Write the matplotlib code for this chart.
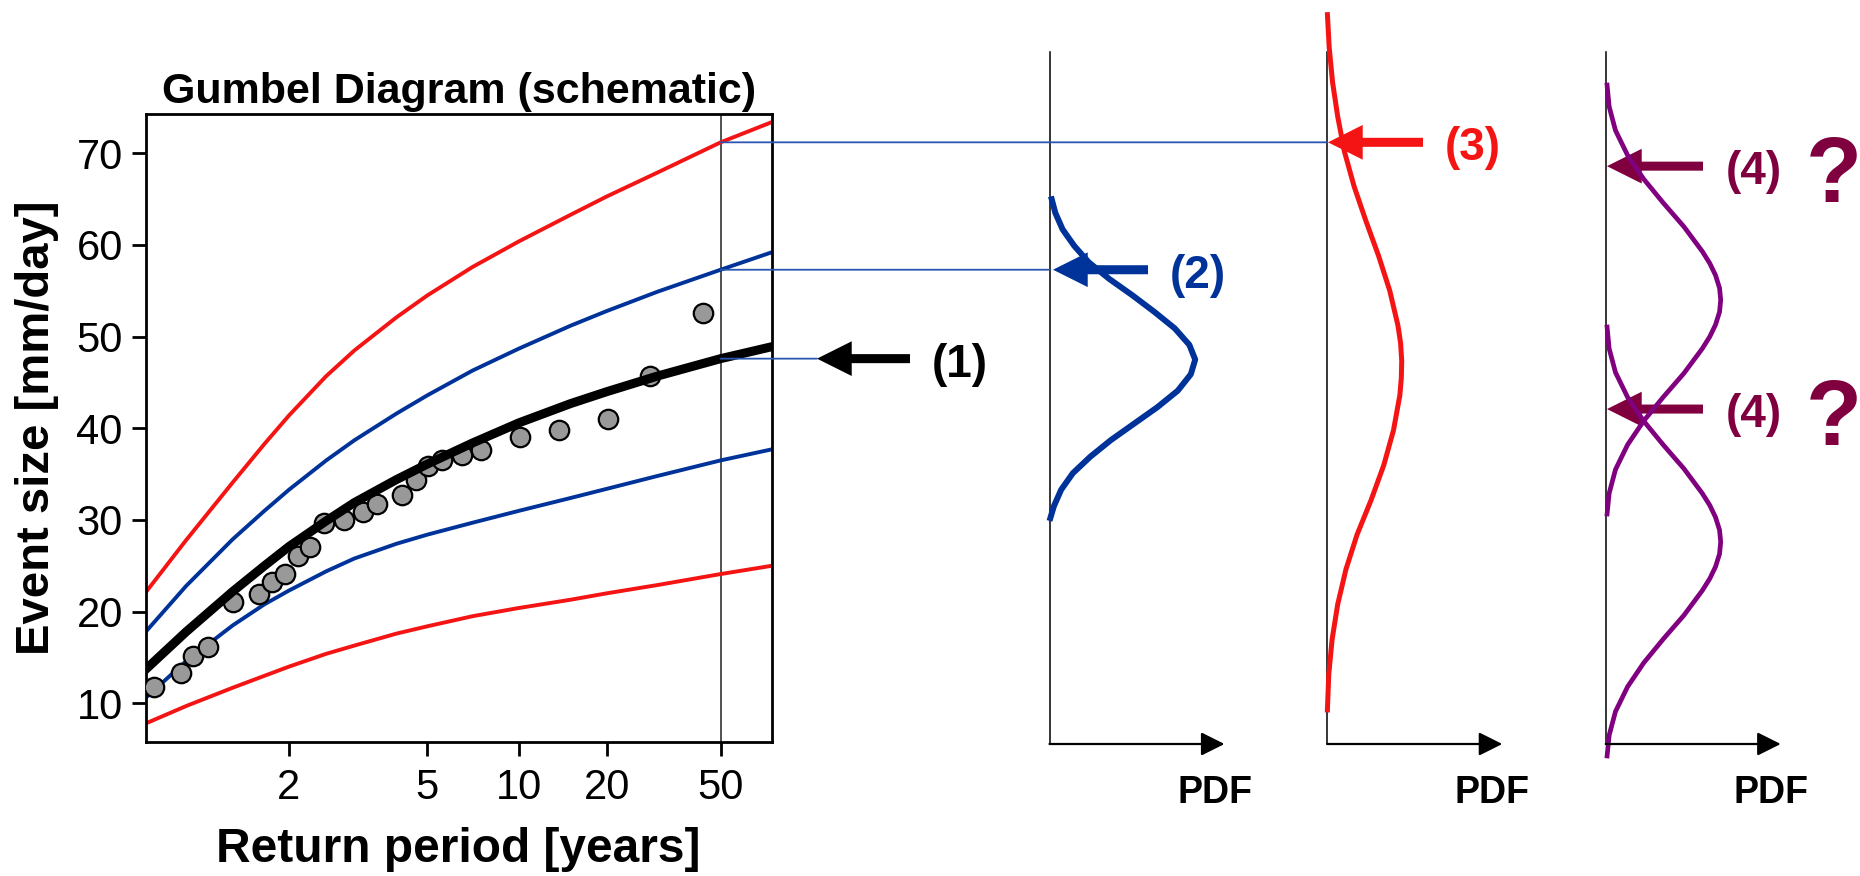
"""
Schematic Gumbel diagram with the predictive PDFs at the 50-year level.
Saves out.png (1860 x 876).
"""
import numpy as np
import matplotlib
matplotlib.use("Agg")
import matplotlib.pyplot as plt
from matplotlib.patches import ConnectionPatch, FancyArrowPatch
from matplotlib.ticker import NullLocator

plt.rcParams['font.family'] = ['Liberation Sans', 'DejaVu Sans']

W, H = 1860, 876

# ---------------------------------------------------------------------------
# data read off the schematic
# ---------------------------------------------------------------------------
CURVE_T = [1.119, 1.25, 1.5, 1.75, 2, 2.5, 3, 4, 5, 7, 10, 15, 20, 30, 50, 75.7]
FIT = [13.7, 17.8, 22.2, 25.0, 27.1, 29.9, 31.9, 34.4, 36.1, 38.4,
       40.6, 42.7, 44.0, 45.7, 47.6, 48.9]
CI_UPPER = [17.8, 22.8, 27.9, 31.0, 33.3, 36.5, 38.7, 41.6, 43.6, 46.3,
            48.7, 51.2, 52.8, 54.9, 57.3, 59.2]
CI_LOWER = [10.6, 14.6, 18.5, 20.8, 22.3, 24.4, 25.8, 27.4, 28.4, 29.7,
            31.0, 32.4, 33.4, 34.8, 36.5, 37.7]
WIDE_UPPER = [22.1, 27.8, 34.1, 38.3, 41.4, 45.7, 48.5, 52.1, 54.5, 57.6,
              60.4, 63.3, 65.3, 67.9, 71.2, 73.4]
WIDE_LOWER = [7.8, 9.7, 11.7, 13.0, 14.0, 15.4, 16.3, 17.6, 18.4, 19.5,
              20.4, 21.3, 22.0, 22.9, 24.1, 25.0]

OBS_T = [1.14, 1.23, 1.28, 1.35, 1.50, 1.70, 1.82, 1.96, 2.11, 2.26,
         2.46, 2.80, 3.18, 3.49, 4.17, 4.60, 5.03, 5.58, 6.45, 7.46,
         10.1, 13.7, 20.1, 28.3, 43.4]
OBS_X = [11.8, 13.3, 15.2, 16.1, 21.0, 21.9, 23.2, 24.1, 26.1, 27.1,
         29.7, 30.0, 30.9, 31.7, 32.7, 34.4, 35.9, 36.5, 37.1, 37.6,
         39.0, 39.8, 41.0, 45.7, 52.6]

RETURN_PERIOD = 50
XTICKS = [2, 5, 10, 20, 50]
YTICKS = [10, 20, 30, 40, 50, 60, 70]

# PDFs (event size level, relative density)
PDF2_LEVEL = [65.3, 63.5, 61.7, 59.9, 58.1, 56.3, 54.5, 52.7, 50.9, 49.1,
              47.5, 45.9, 44.1, 42.3, 40.5, 38.7, 36.9, 35.1, 33.3, 31.5, 29.9]
PDF2_DENS = [0.01, 0.04, 0.09, 0.17, 0.27, 0.41, 0.57, 0.72, 0.86, 0.96,
             1.00, 0.97, 0.88, 0.74, 0.58, 0.42, 0.28, 0.16, 0.08, 0.03, 0.0]
PDF3_LEVEL = [85.4, 81.6, 77.8, 74.0, 70.2, 66.4, 62.6, 58.8, 55.0, 51.2,
              49.3, 47.4, 45.5, 43.6, 39.8, 36.0, 32.2, 28.4, 24.6, 20.8,
              17.0, 13.2, 9.0]
PDF3_DENS = [0.0, 0.025, 0.07, 0.14, 0.23, 0.36, 0.52, 0.69, 0.84, 0.95,
             0.985, 1.00, 0.995, 0.975, 0.89, 0.76, 0.59, 0.40, 0.25, 0.14,
             0.065, 0.02, 0.0]
PDF4A_LEVEL = [77.7, 75.1, 72.5, 69.8, 67.2, 64.6, 62.0, 59.3, 58.0, 56.7,
               55.3, 54.0, 52.7, 51.3, 50.0, 48.7, 46.0, 43.4, 40.8, 38.2,
               35.5, 32.9, 30.4]
PDF4B_LEVEL = [51.3, 48.7, 46.1, 43.4, 40.8, 38.2, 35.6, 32.9, 31.6, 30.3,
               28.9, 27.6, 26.3, 24.9, 23.6, 22.3, 19.6, 17.0, 14.4, 11.8,
               9.1, 6.5, 4.0]
PDF4_DENS = [0.01, 0.03, 0.085, 0.19, 0.33, 0.50, 0.68, 0.84, 0.905, 0.955,
             0.99, 1.00, 0.99, 0.955, 0.905, 0.84, 0.68, 0.50, 0.33, 0.19,
             0.085, 0.03, 0.01]
Q_LEVELS = [68.6, 42.1]

# ---------------------------------------------------------------------------
# styles / layout (pixels)
# ---------------------------------------------------------------------------
BLUE = "#003399"
RED = "#f51414"
PURPLE = "#800080"
MAROON = "#80003f"
LINK = "#2a55b0"

AX_L, AX_R, AX_T, AX_B = 145.7, 771.7, 114.0, 741.7
XLIM = (1.119, 75.7)
YLIM = (5.81, 74.29)
PANEL_X = [1049.5, 1327.3, 1605.7]
PANEL_W = [145.7, 74.4, 115.0]


def gumbel(T):
    T = np.clip(np.asarray(T, dtype=float), 1.0001, None)
    return -np.log(-np.log(1.0 - 1.0 / T))


def gumbel_inv(y):
    return 1.0 / (1.0 - np.exp(-np.exp(-np.asarray(y, dtype=float))))


def px2val(y_px):
    return YLIM[1] - (y_px - AX_T) / (AX_B - AX_T) * (YLIM[1] - YLIM[0])


fig = plt.figure(figsize=(W / 100, H / 100), dpi=100)
ax = fig.add_axes([AX_L / W, 1 - AX_B / H, (AX_R - AX_L) / W, (AX_B - AX_T) / H])

# ---- Gumbel diagram ----
ax.set_xscale('function', functions=(gumbel, gumbel_inv))
ax.set_xlim(*XLIM)
ax.set_ylim(*YLIM)

ax.plot(CURVE_T, WIDE_UPPER, color=RED, lw=2.8, zorder=2)
ax.plot(CURVE_T, WIDE_LOWER, color=RED, lw=2.8, zorder=2)
ax.plot(CURVE_T, CI_UPPER, color=BLUE, lw=2.8, zorder=2)
ax.plot(CURVE_T, CI_LOWER, color=BLUE, lw=2.8, zorder=2)
ax.plot(OBS_T, OBS_X, 'o', ms=14, mfc='#999999', mec='black', mew=1.6, zorder=3)
ax.plot(CURVE_T, FIT, color='black', lw=6.5, zorder=4)
ax.axvline(RETURN_PERIOD, color='#222222', lw=1.1, zorder=1)

ax.set_xticks(XTICKS)
ax.set_xticklabels([str(t) for t in XTICKS])
ax.xaxis.set_minor_locator(NullLocator())
ax.set_yticks(YTICKS)
ax.tick_params(axis='both', direction='out', length=10, width=2, labelsize=30)
ax.tick_params(axis='y', pad=6.5)
ax.tick_params(axis='x', pad=9)
for sp in ax.spines.values():
    sp.set_linewidth(2)

ax.set_title('Gumbel Diagram (schematic)', fontsize=31, fontweight='bold', pad=8)
ax.set_xlabel('Return period [years]', fontsize=34.5, fontweight='bold', va='baseline')
ax.xaxis.set_label_coords(0.5, -(862 - AX_B) / (AX_B - AX_T))
ax.set_ylabel('Event size [mm/day]', fontsize=34, fontweight='bold', va='baseline')
ax.yaxis.set_label_coords((49 - AX_L) / (AX_R - AX_L), 0.5)

# ---- overlay for the PDF sketches (x in pixels, y in mm/day) ----
ov = fig.add_axes([0, 1 - AX_B / H, 1, (AX_B - AX_T) / H])
ov.set_xlim(0, W)
ov.set_ylim(*YLIM)
ov.axis('off')

top, bottom = px2val(52), px2val(744)
for x0 in PANEL_X:
    ov.plot([x0, x0], [top, bottom], color='black', lw=1.1, clip_on=False)
    ov.annotate('', xy=(x0 + 175, bottom), xytext=(x0, bottom),
                arrowprops=dict(arrowstyle='-|>', mutation_scale=36, lw=1.6,
                                color='black', shrinkA=0, shrinkB=0),
                annotation_clip=False)
    fig.text((x0 + 165) / W, 1 - 802.7 / H, 'PDF', ha='center', va='baseline',
             fontsize=27, fontweight='bold')

pdfs = [(0, PDF2_LEVEL, PDF2_DENS, BLUE, 4.3),
        (1, PDF3_LEVEL, PDF3_DENS, RED, 3.6),
        (2, PDF4A_LEVEL, PDF4_DENS, PURPLE, 3.4),
        (2, PDF4B_LEVEL, PDF4_DENS, PURPLE, 3.4)]
for i, lev, dens, c, lw in pdfs:
    xs = PANEL_X[i] + PANEL_W[i] * np.asarray(dens)
    ov.plot(xs, lev, color=c, lw=lw, clip_on=False, solid_capstyle='butt',
            solid_joinstyle='round')

# links from the 50-year estimates to the PDFs
i50 = CURVE_T.index(RETURN_PERIOD)
levels = [FIT[i50], CI_UPPER[i50], WIDE_UPPER[i50]]
link_end = [817, PANEL_X[0], PANEL_X[1]]
for lvl, xe in zip(levels, link_end):
    con = ConnectionPatch(xyA=(RETURN_PERIOD, lvl), coordsA=ax.transData,
                          xyB=(xe, lvl), coordsB=ov.transData,
                          color=LINK, lw=1.3)
    fig.add_artist(con)


def arrow(tail, tip, lvl, color):
    ov.add_patch(FancyArrowPatch(
        (tail, lvl), (tip, lvl),
        arrowstyle='simple,head_length=0.5,head_width=0.5,tail_width=0.13',
        mutation_scale=50, fc=color, ec='none', shrinkA=0, shrinkB=0,
        clip_on=False))


def label(x, lvl, s, color, dy=-6):
    ov.annotate(s, xy=(x, lvl), xytext=(0, dy), textcoords='offset pixels',
                ha='center', va='center', fontsize=33, fontweight='bold',
                color=color, annotation_clip=False)


arrow(910, 817, levels[0], 'black')
label(960, levels[0], '(1)', 'black')
arrow(1148, 1053, levels[1], BLUE)
label(1197.5, levels[1], '(2)', BLUE)
arrow(1423, 1328, levels[2], RED)
label(1473, levels[2], '(3)', RED)
for q in Q_LEVELS:
    arrow(1703, 1607, q, MAROON)
    label(1753.5, q, '(4)', MAROON)
    ov.annotate('?', xy=(1834, q), xytext=(0, -36), textcoords='offset pixels',
                ha='center', va='baseline', fontsize=66, fontweight='bold',
                color=MAROON, annotation_clip=False)

fig.savefig('out.png', dpi=100)
